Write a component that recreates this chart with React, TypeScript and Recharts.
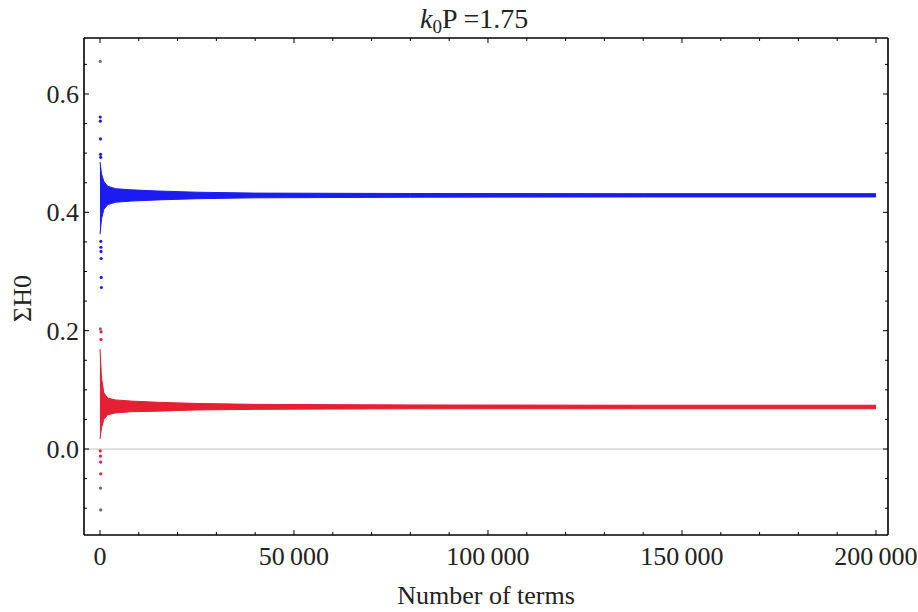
import React from 'react';
import { ComposedChart, Area, Scatter, XAxis, YAxis, ReferenceLine, Label } from 'recharts';

// sampled term counts and the spread of the partial sums at each one
const termCounts = [0, 400, 1000, 2000, 4000, 8000, 15000, 25000, 40000, 80000, 140000, 200000];
const blueLow = [0.363, 0.389, 0.405, 0.413, 0.417, 0.419, 0.421, 0.423, 0.4245, 0.4255, 0.426, 0.426];
const blueHigh = [0.485, 0.465, 0.452, 0.444, 0.44, 0.438, 0.436, 0.434, 0.4325, 0.4318, 0.4315, 0.4315];
const redLow = [0.017, 0.036, 0.05, 0.058, 0.061, 0.063, 0.064, 0.066, 0.067, 0.068, 0.068, 0.068];
const redHigh = [0.169, 0.12, 0.095, 0.086, 0.083, 0.081, 0.079, 0.077, 0.0755, 0.0745, 0.074, 0.074];

// isolated early partial sums (first few hundred terms)
const blueStrayX = [60, 90, 120, 150, 180, 210, 240, 270, 300, 330, 360];
const blueStrayY = [0.561, 0.554, 0.524, 0.498, 0.493, 0.351, 0.341, 0.334, 0.322, 0.29, 0.273];
const redStrayX = [70, 110, 160, 200, 250, 300];
const redStrayY = [-0.003, -0.012, -0.022, -0.042, 0.185, 0.198];
const greyStrayX = [50, 100, 140, 190];
const greyStrayY = [0.655, 0.203, -0.066, -0.103];

const xMajor = [0, 50000, 100000, 150000, 200000];
const xTicks = Array.from({ length: 21 }, (_, i) => i * 10000);
const yMajor = [0, 0.2, 0.4, 0.6];
const yTicks = [-0.1, -0.05, 0, 0.05, 0.1, 0.15, 0.2, 0.25, 0.3, 0.35, 0.4, 0.45, 0.5, 0.55, 0.6, 0.65];

const X_DOMAIN: [number, number] = [-4120, 203100];
const Y_DOMAIN: [number, number] = [-0.1453, 0.6946];

const BLUE = '#1c1cf2';
const RED = '#e61f33';
const FONT = '"Liberation Serif", "Times New Roman", serif';

const bands = termCounts.map((x, i) => ({
  x,
  blue: [blueLow[i], blueHigh[i]],
  red: [redLow[i], redHigh[i]],
}));
const toPoints = (xs: number[], ys: number[]) => xs.map((x, i) => ({ x, y: ys[i] }));

const isMajor = (list: number[], v: number) => list.some((m) => Math.abs(m - v) < 1e-9);
const fmtThousands = (v: number) => String(v).replace(/\B(?=(\d{3})+(?!\d))/g, '\u2009');

const Dot = (props: any) => <circle cx={props.cx} cy={props.cy} r={1.6} fill={props.fill} />;

// frame ticks point into the plot; labels only on bottom and left
const BottomTick = ({ x, y, payload }: any) => {
  const major = isMajor(xMajor, payload.value);
  return (
    <g>
      <line x1={x} x2={x} y1={y} y2={y - (major ? 5 : 3)} stroke="#000" />
      {major && (
        <text x={x} y={y + 30} textAnchor="middle" fontSize={26} fontFamily={FONT} fill="#222">
          {fmtThousands(payload.value)}
        </text>
      )}
    </g>
  );
};

const TopTick = ({ x, y, payload }: any) => {
  const major = isMajor(xMajor, payload.value);
  return <line x1={x} x2={x} y1={y} y2={y + (major ? 5 : 3)} stroke="#000" />;
};

const LeftTick = ({ x, y, payload }: any) => {
  const major = isMajor(yMajor, payload.value);
  return (
    <g>
      <line x1={x} x2={x + (major ? 5 : 3)} y1={y} y2={y} stroke="#000" />
      {major && (
        <text x={x - 5} y={y} dy="0.35em" textAnchor="end" fontSize={26} fontFamily={FONT} fill="#222">
          {payload.value.toFixed(1)}
        </text>
      )}
    </g>
  );
};

const RightTick = ({ x, y, payload }: any) => {
  const major = isMajor(yMajor, payload.value);
  return <line x1={x} x2={x - (major ? 5 : 3)} y1={y} y2={y} stroke="#000" />;
};

// title starts a fixed distance left of the plot centre so the subscript does not skew it
const TitleLabel = ({ viewBox }: any) => (
  <text x={viewBox.x + viewBox.width / 2 - 66} y={28} textAnchor="start" fontSize={28} fontFamily={FONT} fill="#222">
    <tspan fontStyle="italic">k</tspan>
    <tspan fontSize={19} dy={5}>0</tspan>
    <tspan dy={-5}>P =1.75</tspan>
  </text>
);

const YTitle = ({ viewBox }: any) => {
  const cx = 22;
  const cy = viewBox.y + viewBox.height / 2 + 12;
  return (
    <text x={cx} y={cy} transform={`rotate(-90, ${cx}, ${cy})`} dy="0.35em" textAnchor="middle" fontSize={26} fontFamily={FONT} fill="#222">
      ΣH0
    </text>
  );
};

export default function App() {
  return (
    <div style={{ position: 'absolute', left: 0, top: 0, width: 918, height: 612, background: '#fff' }}>
      <ComposedChart width={918} height={612} data={bands} margin={{ top: 0, right: 0, bottom: 0, left: 0 }}>
        <XAxis
          dataKey="x"
          type="number"
          domain={X_DOMAIN}
          allowDataOverflow
          ticks={xTicks}
          interval={0}
          height={77}
          tickSize={0}
          tickMargin={0}
          tickLine={false}
          axisLine={{ stroke: '#000', strokeWidth: 1.6 }}
          tick={<BottomTick />}
        >
          <Label value="Number of terms" position="insideBottom" offset={8} fontSize={26} fontFamily={FONT} fill="#222" />
        </XAxis>
        <XAxis
          xAxisId="top"
          orientation="top"
          dataKey="x"
          type="number"
          domain={X_DOMAIN}
          allowDataOverflow
          ticks={xTicks}
          interval={0}
          height={38}
          tickSize={0}
          tickMargin={0}
          tickLine={false}
          axisLine={{ stroke: '#000', strokeWidth: 1.6 }}
          tick={<TopTick />}
        >
          <Label content={<TitleLabel />} />
        </XAxis>
        <YAxis
          type="number"
          domain={Y_DOMAIN}
          allowDataOverflow
          ticks={yTicks}
          interval={0}
          width={84}
          tickSize={0}
          tickMargin={0}
          tickLine={false}
          axisLine={{ stroke: '#000', strokeWidth: 1.6 }}
          tick={<LeftTick />}
        >
          <Label content={<YTitle />} />
        </YAxis>
        <YAxis
          yAxisId="right"
          orientation="right"
          type="number"
          domain={Y_DOMAIN}
          allowDataOverflow
          ticks={yTicks}
          interval={0}
          width={30}
          tickSize={0}
          tickMargin={0}
          tickLine={false}
          axisLine={{ stroke: '#000', strokeWidth: 1.6 }}
          tick={<RightTick />}
        />
        <ReferenceLine y={0} stroke="#c4c4c4" strokeWidth={1} />
        <Area
          type="linear"
          dataKey="blue"
          stroke={BLUE}
          strokeWidth={1}
          fill={BLUE}
          fillOpacity={1}
          isAnimationActive={false}
        />
        <Area
          type="linear"
          dataKey="red"
          stroke={RED}
          strokeWidth={1}
          fill={RED}
          fillOpacity={1}
          isAnimationActive={false}
        />
        <Scatter data={toPoints(blueStrayX, blueStrayY)} dataKey="y" fill={BLUE} shape={<Dot />} isAnimationActive={false} />
        <Scatter data={toPoints(redStrayX, redStrayY)} dataKey="y" fill={RED} shape={<Dot />} isAnimationActive={false} />
        <Scatter data={toPoints(greyStrayX, greyStrayY)} dataKey="y" fill="#6a6a78" shape={<Dot />} isAnimationActive={false} />
      </ComposedChart>
    </div>
  );
}
